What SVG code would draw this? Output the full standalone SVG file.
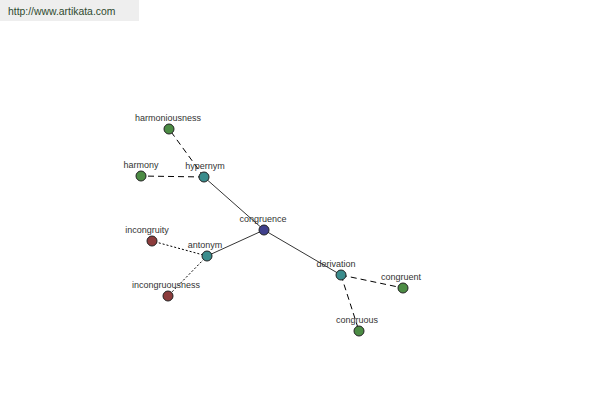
<svg xmlns="http://www.w3.org/2000/svg" width="600" height="400" viewBox="0 0 600 400">
<style>
.lbl{font-family:"Liberation Sans",Arial,sans-serif;font-size:9px;fill:#333;text-anchor:middle}
.n{stroke:#222;stroke-width:1}
.g{fill:#4c8c44}.t{fill:#3a8c8c}.b{fill:#40408c}.r{fill:#8c3c3c}
.solid{stroke:#000;stroke-width:0.8;fill:none}
.dash{stroke:#000;stroke-width:1;stroke-dasharray:6,4;fill:none}
.dot{stroke:#000;stroke-width:1;stroke-dasharray:2,2;fill:none}
</style>
<rect width="600" height="400" fill="#fff"/>
<g id="header">
<rect x="0" y="0" width="139" height="21" fill="#eeeeee"/>
<text x="8" y="15" font-family="Liberation Sans,Arial,sans-serif" font-size="10.4" fill="#2f4a2f">http://www.artikata.com</text>
</g>
<g id="connectors">
<line class="solid" x1="264" y1="230" x2="204" y2="177"/>
<line class="solid" x1="264" y1="230" x2="207" y2="256"/>
<line class="solid" x1="264" y1="230" x2="341" y2="275"/>
<line class="dash" x1="204" y1="177" x2="169" y2="129"/>
<line class="dash" x1="204" y1="177" x2="141" y2="176"/>
<line class="dot" x1="207" y1="256" x2="152" y2="241"/>
<line class="dot" x1="207" y1="256" x2="168" y2="296"/>
<line class="dash" x1="341" y1="275" x2="403" y2="288"/>
<line class="dash" x1="341" y1="275" x2="359" y2="331"/>
</g>
<g id="harmoniousness"><circle class="n g" cx="169" cy="129" r="5"/><text class="lbl" x="168" y="121">harmoniousness</text></g>
<g id="harmony"><circle class="n g" cx="141" cy="176" r="5"/><text class="lbl" x="141" y="168">harmony</text></g>
<g id="hypernym"><circle class="n t" cx="204" cy="177" r="5"/><text class="lbl" x="205" y="169">hypernym</text></g>
<g id="congruence"><circle class="n b" cx="264" cy="230" r="5"/><text class="lbl" x="263" y="222">congruence</text></g>
<g id="incongruity"><circle class="n r" cx="152" cy="241" r="5"/><text class="lbl" x="147" y="233">incongruity</text></g>
<g id="antonym"><circle class="n t" cx="207" cy="256" r="5"/><text class="lbl" x="205" y="248">antonym</text></g>
<g id="incongruousness"><circle class="n r" cx="168" cy="296" r="5"/><text class="lbl" x="166" y="288">incongruousness</text></g>
<g id="derivation"><circle class="n t" cx="341" cy="275" r="5"/><text class="lbl" x="336" y="267">derivation</text></g>
<g id="congruent"><circle class="n g" cx="403" cy="288" r="5"/><text class="lbl" x="401" y="280">congruent</text></g>
<g id="congruous"><circle class="n g" cx="359" cy="331" r="5"/><text class="lbl" x="357" y="323">congruous</text></g>
</svg>
